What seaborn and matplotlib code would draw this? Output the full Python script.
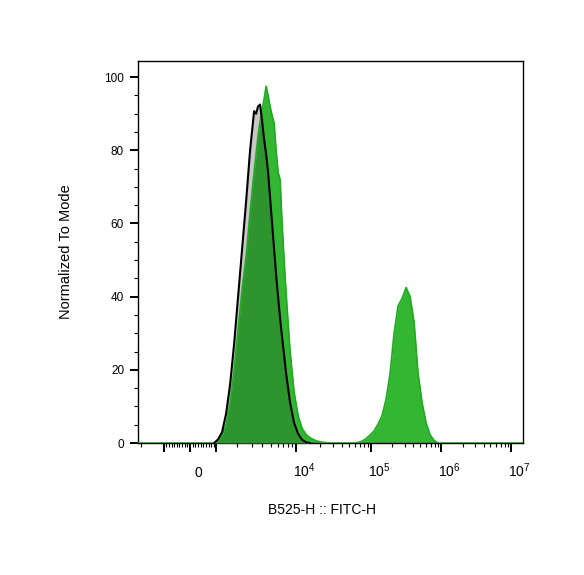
import numpy as np
import matplotlib
matplotlib.use('Agg')
import matplotlib.pyplot as plt
import matplotlib.transforms as mtransforms
import seaborn as sns

# Dane histogramu (FITC-H, normalizacja do modu)
fitc_bins = [-2200, -1000, 0, 563, 759, 921, 1089, 1265, 1451, 1648,
             1858, 2085, 2330, 2597, 2889, 3211, 3386, 3567, 3760, 3963,
             4176, 4403, 4642, 4895, 5164, 5447, 5750, 6067, 6408, 6767,
             7151, 7555, 8446, 9454, 10597, 11893, 13362, 15037, 17981, 21558,
             27540, 37590, 51510, 62320, 75490, 85825, 97620, 111060, 126380, 143900,
             163800, 186500, 212400, 242000, 275700, 314200, 358100, 408100, 465100, 530300,
             604500, 689200, 785700, 895900, 1021600, 3000000, 15000000]

control_pct = [0, 0, 0, 0, 0, 0, 1, 3, 8, 16,
               27, 40, 53, 66, 80, 90.7, 90, 92, 92.5, 88,
               83, 79, 74, 67, 60, 53, 46, 40, 34, 29,
               24, 19, 11, 5.5, 2.5, 0.9, 0.2, 0, 0, 0,
               0, 0, 0, 0, 0, 0, 0, 0, 0, 0,
               0, 0, 0, 0, 0, 0, 0, 0, 0, 0,
               0, 0, 0, 0, 0, 0, 0]

stained_pct = [0, 0, 0, 0, 0, 0, 0.5, 2, 5, 11,
               20, 31, 42, 51, 63, 74, 79, 84, 88, 91,
               94, 97.5, 95, 92, 89.5, 87.5, 80, 74, 72, 60,
               50, 41, 25, 14, 7.5, 4, 2.3, 1.4, 0.6, 0.2,
               0, 0, 0, 0, 0.5, 1.2, 2.2, 3.3, 5.2, 7.5,
               12, 19, 30, 37.5, 39.5, 42.5, 40, 33, 19, 11,
               5.5, 2.2, 0.7, 0, 0, 0, 0]

x_major = [-1000, 0, 1000, 1e4, 1e5, 1e6, 1e7]
x_major_labels = ['', '0', '', r'$10^{4}$', r'$10^{5}$', r'$10^{6}$', r'$10^{7}$']
y_major = [0, 20, 40, 60, 80, 100]

# Parametry skali biexponencjalnej (logicle)
A_BIEX = 256.0
P_BIEX = 3.4
u_grid = np.linspace(-3, 6, 40001)
x_grid = A_BIEX * (10 ** u_grid - P_BIEX ** 2 * 10 ** (-u_grid / P_BIEX) + P_BIEX ** 2 - 1)


def biex_forward(x):
    return np.interp(np.asarray(x, dtype=float), x_grid, u_grid)


def biex_inverse(u):
    return np.interp(np.asarray(u, dtype=float), u_grid, x_grid)


GREEN_LIGHT = '#33b733'
GREEN_DARK = '#2e952e'
GREEN_EDGE = '#22a822'
GRAY = '#c8c8c8'

sns.set_theme(style='ticks')
plt.rcParams['font.family'] = ['Liberation Sans', 'DejaVu Sans']
plt.rcParams['mathtext.default'] = 'regular'
plt.rcParams['axes.linewidth'] = 1.0
plt.rcParams['text.color'] = 'black'
plt.rcParams['axes.labelcolor'] = 'black'

fig = plt.figure(figsize=(5.84, 5.75), dpi=100)
ax = fig.add_axes([138 / 584, 132 / 575, 385 / 584, 382 / 575])
ax.set_xscale('function', functions=(biex_forward, biex_inverse))

bins = np.array(fitc_bins, dtype=float)
ctrl = np.array(control_pct, dtype=float)
stain = np.array(stained_pct, dtype=float)

ax.fill_between(bins, stain, color=GREEN_LIGHT, lw=0, zorder=1)
ax.fill_between(bins, ctrl, color=GRAY, lw=0, zorder=2)
ax.fill_between(bins, np.minimum(ctrl, stain), color=GREEN_DARK, lw=0, zorder=3)
sns.lineplot(x=bins, y=stain, color=GREEN_EDGE, lw=1.2, ax=ax, zorder=4)

nz = np.flatnonzero(ctrl > 0)
seg = slice(nz[0] - 1, nz[-1] + 2)
sns.lineplot(x=bins[seg], y=ctrl[seg], color='black', lw=1.5, ax=ax, zorder=5)

ax.set_xlim(-2150, 1.46e7)
ax.set_ylim(0, 104.4)

# Osie
x_minor = [-2000] + [-k * 100 for k in range(1, 10)] + [k * 100 for k in range(1, 10)]
for dec in [1e3, 1e4, 1e5, 1e6]:
    x_minor += [k * dec for k in range(2, 10)]
ax.set_xticks(x_major)
ax.set_xticks(x_minor, minor=True)
ax.set_xticklabels(x_major_labels, va='baseline', fontsize=10)
ax.set_yticks(y_major)
ax.set_yticks(np.arange(0, 105, 5), minor=True)
ax.set_yticklabels([str(v) for v in y_major], fontsize=8.5)

ax.tick_params(axis='x', which='major', direction='out', length=6.5, width=1.4, pad=18, colors='black')
ax.tick_params(axis='x', which='minor', direction='out', length=3, width=0.8, colors='black')
ax.tick_params(axis='y', which='major', direction='out', length=6, width=1.4, pad=4, colors='black')
ax.tick_params(axis='y', which='minor', direction='out', length=3, width=0.8, colors='black')

offset = mtransforms.ScaledTranslation(8 / 100, 0, fig.dpi_scale_trans)
for lbl in ax.get_xticklabels():
    lbl.set_transform(lbl.get_transform() + offset)

for sp in ax.spines.values():
    sp.set_color('black')

ax.set_xlabel('B525-H :: FITC-H', fontsize=10, va='top')
ax.set_ylabel('Normalized To Mode', fontsize=10.5)
ax.xaxis.set_label_coords(0.478, -0.157)
ax.yaxis.set_label_coords(-0.17, 0.5)

fig.savefig('out.png', dpi=100, facecolor='white')
